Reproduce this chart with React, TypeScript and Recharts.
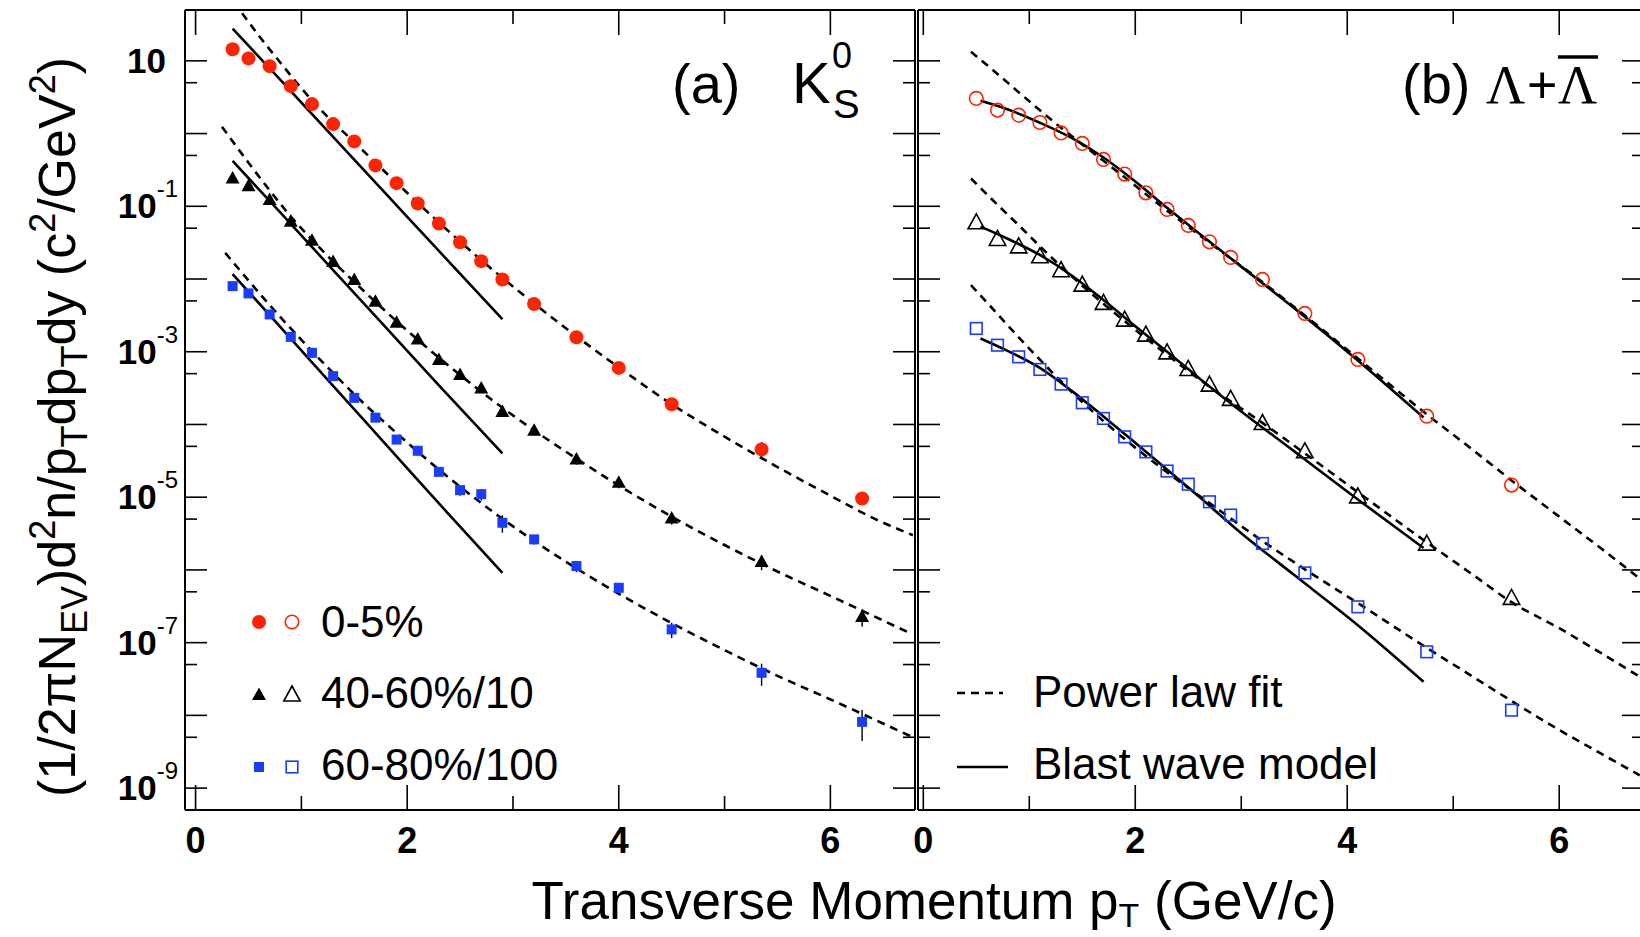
import React from 'react';
import { ComposedChart, Scatter, Line, XAxis, YAxis, ErrorBar } from 'recharts';

// ---------- axes ----------
const xTicks = [0, 1, 2, 3, 4, 5, 6];
const xTickLabels = ['0', '', '2', '', '4', '', '6'];
const yMajorTicks = [1e-9, 1e-8, 1e-7, 1e-6, 1e-5, 1e-4, 1e-3, 1e-2, 1e-1, 1, 10];
const yMinorTicks = [5e-9, 5e-8, 5e-7, 5e-6, 5e-5, 5e-4, 5e-3, 5e-2, 5e-1, 5];
const yTickLabelValues = [10, 1e-1, 1e-3, 1e-5, 1e-7, 1e-9];
const yTickLabelExps = ['', '-1', '-3', '-5', '-7', '-9'];
const xDomainA: [number, number] = [-0.1, 6.8];
const xDomainB: [number, number] = [-0.05, 6.8];
const yDomain: [number, number] = [5e-10, 50];

// ---------- (a) K0S data ----------
const ptK0s = [0.35, 0.5, 0.7, 0.9, 1.1, 1.3, 1.5, 1.7, 1.9, 2.1, 2.3, 2.5, 2.7, 2.9, 3.2, 3.6, 4.0, 4.5, 5.35, 6.3];
const k0s_0_5 = [14.4, 10.8, 8.45, 4.49, 2.54, 1.35, 0.78, 0.365, 0.208, 0.109, 0.058, 0.0321, 0.0176, 0.00987, 0.00452, 0.00158, 6.0e-4, 1.9e-4, 4.54e-5, 9.6e-6];
const k0s_0_5_err = [1.2, 0.9, 0.7, 0.35, 0.2, 0.1, 0.06, 0.03, 0.016, 0.009, 0.005, 0.0027, 0.0015, 0.0009, 0.0004, 0.00015, 0.6e-4, 0.35e-4, 1.2e-5, 1.5e-6];
const k0s_40_60 = [0.241, 0.189, 0.1216, 0.0611, 0.0335, 0.0172, 0.00966, 0.00486, 0.0025, 0.001476, 7.7e-4, 4.77e-4, 3.13e-4, 1.49e-4, 8.2e-5, 3.3e-5, 1.58e-5, 5.1e-6, 1.29e-6, 2.26e-7];
const k0s_40_60_err = [0.02, 0.015, 0.01, 0.005, 0.0028, 0.0015, 0.0008, 0.0004, 0.0002, 0.00013, 0.7e-4, 0.45e-4, 0.3e-4, 0.2e-4, 1.2e-5, 0.5e-5, 0.25e-5, 0.9e-6, 0.3e-6, 0.6e-7];
const k0s_60_80 = [7.98e-3, 6.34e-3, 3.26e-3, 1.6e-3, 9.66e-4, 4.62e-4, 2.32e-4, 1.24e-4, 6.2e-5, 4.35e-5, 2.23e-5, 1.25e-5, 1.1e-5, 4.45e-6, 2.63e-6, 1.13e-6, 5.68e-7, 1.52e-7, 3.85e-8, 8.15e-9];
const k0s_60_80_err = [0.8e-3, 0.6e-3, 0.3e-3, 0.15e-3, 0.9e-4, 0.45e-4, 0.25e-4, 0.15e-4, 0.8e-5, 0.6e-5, 0.3e-5, 0.2e-5, 0.2e-5, 1.2e-6, 0.4e-6, 0.2e-6, 0.9e-7, 0.36e-7, 1.3e-8, 3.7e-9];

// (a) power-law fits (dashed)
const redDashA_x = [0.44, 0.6, 0.8, 1.0, 1.2, 1.5, 1.9, 2.3, 2.7, 3.2, 3.6, 4.0, 4.5, 5.0, 5.5, 6.0, 6.4, 6.78];
const redDashA_y = [45, 22, 9.5, 4.2, 2.0, 0.76, 0.21, 0.06, 0.0182, 0.0046, 0.00163, 6.1e-4, 1.9e-4, 6.8e-5, 2.6e-5, 1.05e-5, 5.2e-6, 3.0e-6];
const blkDashA_x = [0.25, 0.5, 0.7, 0.9, 1.1, 1.3, 1.5, 1.9, 2.3, 2.7, 3.2, 3.6, 4.0, 4.5, 5.0, 5.5, 6.0, 6.3, 6.73];
const blkDashA_y = [1.24, 0.398, 0.166, 0.0724, 0.0347, 0.0174, 0.00912, 0.00263, 8.3e-4, 2.82e-4, 8.3e-5, 3.4e-5, 1.45e-5, 5.4e-6, 2.2e-6, 9.5e-7, 4.4e-7, 2.75e-7, 1.4e-7];
const bluDashA_x = [0.28, 0.5, 0.7, 0.9, 1.1, 1.3, 1.5, 1.9, 2.3, 2.7, 3.2, 3.6, 4.0, 4.5, 5.0, 5.5, 6.0, 6.3, 6.78];
const bluDashA_y = [0.0229, 0.00955, 0.00437, 0.00209, 0.00102, 5.1e-4, 2.6e-4, 7.6e-5, 2.4e-5, 8.3e-6, 2.5e-6, 1.05e-6, 4.7e-7, 1.86e-7, 7.9e-8, 3.5e-8, 1.66e-8, 1.05e-8, 5.0e-9];
// (a) blast wave (solid)
const blastA_x = [0.35, 0.8, 1.3, 1.8, 2.3, 2.9];
const redBlastA_y = [27.8, 5.5, 0.9, 0.148, 0.0243, 0.0028];
const blkBlastA_y = [0.42, 0.0824, 0.0133, 0.00214, 3.46e-4, 4.0e-5];
const bluBlastA_y = [0.0117, 2.2e-3, 3.4e-4, 5.3e-5, 8.2e-6, 9.1e-7];

// ---------- (b) Lambda data ----------
const ptLam = [0.5, 0.7, 0.9, 1.1, 1.3, 1.5, 1.7, 1.9, 2.1, 2.3, 2.5, 2.7, 2.9, 3.2, 3.6, 4.1, 4.75, 5.55];
const lam_0_5 = [3.04, 2.1, 1.79, 1.42, 1.02, 0.731, 0.441, 0.277, 0.153, 0.0905, 0.0546, 0.0325, 0.0198, 0.00987, 3.36e-3, 7.83e-4, 1.3e-4, 1.47e-5];
const lam_40_60 = [0.0593, 0.035, 0.0277, 0.0202, 0.013, 8.25e-3, 4.62e-3, 2.72e-3, 1.69e-3, 9.66e-4, 5.71e-4, 3.48e-4, 2.21e-4, 1.03e-4, 4.21e-5, 1.01e-5, 2.26e-6, 4.06e-7];
const lam_60_80 = [2.09e-3, 1.23e-3, 8.51e-4, 5.71e-4, 3.59e-4, 1.99e-4, 1.21e-4, 6.76e-5, 4.2e-5, 2.29e-5, 1.51e-5, 8.65e-6, 5.68e-6, 2.31e-6, 9.1e-7, 3.11e-7, 7.48e-8, 1.18e-8];

const dashB_x = [0.45, 0.7, 0.9, 1.1, 1.3, 1.5, 1.9, 2.3, 2.7, 3.2, 3.6, 4.1, 4.75, 5.2, 5.55, 6.0, 6.4, 6.76];
const redDashB_y = [13.3, 6.6, 3.7, 2.09, 1.2, 0.71, 0.25, 0.087, 0.0316, 0.0091, 0.00316, 8.1e-4, 1.38e-4, 4.3e-5, 1.7e-5, 5.4e-6, 1.95e-6, 7.6e-7];
const blkDashB_y = [0.241, 0.105, 0.055, 0.0282, 0.0148, 0.0081, 2.63e-3, 9.1e-4, 3.3e-4, 1.05e-4, 4.0e-5, 1.17e-5, 2.4e-6, 8.3e-7, 3.6e-7, 1.58e-7, 7.1e-8, 3.4e-8];
const bluDashB_y = [8.24e-3, 3.3e-3, 1.58e-3, 7.8e-4, 3.9e-4, 2.04e-4, 6.3e-5, 2.2e-5, 8.3e-6, 2.5e-6, 1.02e-6, 3.5e-7, 8.5e-8, 3.3e-8, 1.58e-8, 6.3e-9, 2.95e-9, 1.5e-9];
const blastB_x = [0.54, 0.8, 1.1, 1.4, 1.7, 2.0, 2.3, 2.6, 3.0, 3.5, 4.1, 4.72];
const redBlastB_y = [2.82, 2.14, 1.41, 0.87, 0.468, 0.219, 0.0955, 0.0427, 0.0148, 0.00398, 7.6e-4, 1.25e-4];
const blkBlastB_y = [0.0525, 0.0355, 0.0214, 0.0112, 0.00513, 0.00224, 1.0e-3, 4.37e-4, 1.51e-4, 4.27e-5, 9.3e-6, 2.0e-6];
const bluBlastB_y = [1.52e-3, 1.02e-3, 6.0e-4, 2.9e-4, 1.29e-4, 5.6e-5, 2.4e-5, 1.02e-5, 3.2e-6, 8.5e-7, 1.74e-7, 2.9e-8];

// ---------- legend texts ----------
const centralityLabels = ['0-5%', '40-60%/10', '60-80%/100'];
const curveLabels = ['Power law fit', 'Blast wave model'];

// ---------- styles ----------
const FONT = "'Liberation Sans', Arial, Helvetica, sans-serif";
const RED = '#ff2400';
const BLUE = '#1a3cff';
const DASH = '8 6';
const LW = 2.6;

const pts = (xs: number[], ys: number[], es?: number[]) =>
  xs.map((x, i) => (es ? { x, y: ys[i], e: es[i] } : { x, y: ys[i] }));

const near = (a: number, b: number) => Math.abs(a - b) <= Math.abs(b) * 1e-6;

// marker shapes
const FilledCircle = (p: any) => <circle cx={p.cx} cy={p.cy} r={7} fill={RED} />;
const FilledTri = (p: any) => (
  <polygon points={`${p.cx},${p.cy - 7.5} ${p.cx - 7},${p.cy + 5} ${p.cx + 7},${p.cy + 5}`} fill="#000" />
);
const FilledSq = (p: any) => <rect x={p.cx - 5} y={p.cy - 5} width={10} height={10} fill={BLUE} />;
const OpenCircle = (p: any) => <circle cx={p.cx} cy={p.cy} r={6.8} fill="none" stroke={RED} strokeWidth={1.6} />;
const OpenTri = (p: any) => (
  <polygon points={`${p.cx},${p.cy - 9} ${p.cx - 8.2},${p.cy + 6} ${p.cx + 8.2},${p.cy + 6}`} fill="none" stroke="#000" strokeWidth={1.6} />
);
const OpenSq = (p: any) => <rect x={p.cx - 5.8} y={p.cy - 5.8} width={11.6} height={11.6} fill="none" stroke={BLUE} strokeWidth={1.6} />;

// tick renderers (ticks point inward, ROOT style)
const BottomTick = (p: any) => {
  const v = p.payload.value;
  const idx = xTicks.indexOf(v);
  const lab = idx >= 0 ? xTickLabels[idx] : '';
  const len = lab ? 25 : 14;
  return (
    <g>
      <line x1={p.x} x2={p.x} y1={p.y} y2={p.y - len} stroke="#000" strokeWidth={1.6} />
      {lab ? (
        <text x={p.x} y={p.y + 43} textAnchor="middle" fontFamily={FONT} fontWeight="bold" fontSize={36} fill="#000">
          {lab}
        </text>
      ) : null}
    </g>
  );
};
const TopTick = (p: any) => {
  const v = p.payload.value;
  const idx = xTicks.indexOf(v);
  const len = idx >= 0 && xTickLabels[idx] ? 25 : 14;
  return <line x1={p.x} x2={p.x} y1={p.y} y2={p.y + len} stroke="#000" strokeWidth={1.6} />;
};
const isMajorY = (v: number) => yMajorTicks.some((m) => near(v, m));
const makeLeftTick = (showLabels: boolean) => (p: any) => {
  const v = p.payload.value;
  const len = isMajorY(v) ? 22 : 12;
  const li = yTickLabelValues.findIndex((m) => near(v, m));
  let label = null;
  if (showLabels && li >= 0) {
    const exp = yTickLabelExps[li];
    label = exp ? (
      <text x={p.x - 7} y={p.y + 12} textAnchor="end" fontFamily={FONT} fill="#000">
        <tspan fontWeight="bold" fontSize={35}>10</tspan>
        <tspan fontSize={24} dy={-21}>{exp}</tspan>
      </text>
    ) : (
      <text x={p.x - 19} y={p.y + 12} textAnchor="end" fontFamily={FONT} fontWeight="bold" fontSize={35} fill="#000">
        10
      </text>
    );
  }
  return (
    <g>
      <line x1={p.x} x2={p.x + len} y1={p.y} y2={p.y} stroke="#000" strokeWidth={1.6} />
      {label}
    </g>
  );
};
const RightTick = (p: any) => {
  const v = p.payload.value;
  const len = isMajorY(v) ? 22 : 12;
  return <line x1={p.x} x2={p.x - len} y1={p.y} y2={p.y} stroke="#000" strokeWidth={1.6} />;
};

const yTicks = [...yMajorTicks, ...yMinorTicks].sort((a, b) => a - b);
const frame = { stroke: '#000', strokeWidth: 2 };

function axes(domain: [number, number], labels: boolean) {
  return [
    <XAxis key="xb" xAxisId="b" type="number" dataKey="x" domain={domain} ticks={xTicks} interval={0} allowDataOverflow
      orientation="bottom" height={1} tickSize={0} tickMargin={0} tickLine={false} axisLine={frame} tick={BottomTick} />,
    <XAxis key="xt" xAxisId="t" type="number" dataKey="x" domain={domain} ticks={xTicks} interval={0} allowDataOverflow
      orientation="top" height={1} tickSize={0} tickMargin={0} tickLine={false} axisLine={frame} tick={TopTick} />,
    <YAxis key="yl" yAxisId="l" type="number" dataKey="y" scale="log" domain={yDomain} ticks={yTicks} interval={0} allowDataOverflow
      orientation="left" width={1} tickSize={0} tickMargin={0} tickLine={false} axisLine={frame} tick={makeLeftTick(labels)} />,
    <YAxis key="yr" yAxisId="r" type="number" dataKey="y" scale="log" domain={yDomain} ticks={yTicks} interval={0} allowDataOverflow
      orientation="right" width={1} tickSize={0} tickMargin={0} tickLine={false} axisLine={frame} tick={RightTick} />,
  ];
}

const curve = (key: string, data: any[], dashed: boolean) => (
  <Line key={key} xAxisId="b" yAxisId="l" data={data} dataKey="y" type="monotone" stroke="#000" strokeWidth={LW}
    strokeDasharray={dashed ? DASH : undefined} dot={false} activeDot={false} isAnimationActive={false} legendType="none" />
);

const errBar = <ErrorBar dataKey="e" direction="y" width={0} stroke="#000" strokeWidth={1.4} isAnimationActive={false} />;

export default function App() {
  return (
    <div style={{ position: 'fixed', left: 0, top: 0, width: 1640, height: 937, overflow: 'hidden', background: '#fff', fontFamily: FONT }}>
      {/* panel (a) */}
      <div style={{ position: 'absolute', left: 0, top: 0 }}>
        <ComposedChart width={930} height={937} margin={{ top: 9, right: 14, bottom: 126, left: 184 }}>
          {axes(xDomainA, true)}
          <Scatter xAxisId="b" yAxisId="l" data={pts(ptK0s, k0s_0_5, k0s_0_5_err)} dataKey="y" shape={FilledCircle} isAnimationActive={false}>{errBar}</Scatter>
          <Scatter xAxisId="b" yAxisId="l" data={pts(ptK0s, k0s_40_60, k0s_40_60_err)} dataKey="y" shape={FilledTri} isAnimationActive={false}>{errBar}</Scatter>
          <Scatter xAxisId="b" yAxisId="l" data={pts(ptK0s, k0s_60_80, k0s_60_80_err)} dataKey="y" shape={FilledSq} isAnimationActive={false}>{errBar}</Scatter>
          {curve('rda', pts(redDashA_x, redDashA_y), true)}
          {curve('bda', pts(blkDashA_x, blkDashA_y), true)}
          {curve('uda', pts(bluDashA_x, bluDashA_y), true)}
          {curve('rsa', pts(blastA_x, redBlastA_y), false)}
          {curve('bsa', pts(blastA_x, blkBlastA_y), false)}
          {curve('usa', pts(blastA_x, bluBlastA_y), false)}
        </ComposedChart>
      </div>
      {/* panel (b) */}
      <div style={{ position: 'absolute', left: 900, top: 0 }}>
        <ComposedChart width={760} height={937} margin={{ top: 9, right: 15, bottom: 126, left: 17 }}>
          {axes(xDomainB, false)}
          <Scatter xAxisId="b" yAxisId="l" data={pts(ptLam, lam_0_5)} dataKey="y" shape={OpenCircle} isAnimationActive={false} />
          <Scatter xAxisId="b" yAxisId="l" data={pts(ptLam, lam_40_60)} dataKey="y" shape={OpenTri} isAnimationActive={false} />
          <Scatter xAxisId="b" yAxisId="l" data={pts(ptLam, lam_60_80)} dataKey="y" shape={OpenSq} isAnimationActive={false} />
          {curve('rdb', pts(dashB_x, redDashB_y), true)}
          {curve('bdb', pts(dashB_x, blkDashB_y), true)}
          {curve('udb', pts(dashB_x, bluDashB_y), true)}
          {curve('rsb', pts(blastB_x, redBlastB_y), false)}
          {curve('bsb', pts(blastB_x, blkBlastB_y), false)}
          {curve('usb', pts(blastB_x, bluBlastB_y), false)}
        </ComposedChart>
      </div>
      {/* titles, panel labels and legends */}
      <svg width={1640} height={937} style={{ position: 'absolute', left: 0, top: 0, pointerEvents: 'none' }}>
        <g fontFamily={FONT} fill="#000">
          <text transform="translate(75,427) rotate(-90)" textAnchor="middle" fontSize={52}>
            (1/2πN<tspan dy={12} fontSize={36}>EV</tspan>
            <tspan dy={-12}>)d</tspan>
            <tspan dy={-20} fontSize={36}>2</tspan>
            <tspan dy={20}>n/p</tspan>
            <tspan dy={12} fontSize={36}>T</tspan>
            <tspan dy={-12}>dp</tspan>
            <tspan dy={12} fontSize={36}>T</tspan>
            <tspan dy={-12}>dy (c</tspan>
            <tspan dy={-20} fontSize={36}>2</tspan>
            <tspan dy={20}>/GeV</tspan>
            <tspan dy={-20} fontSize={36}>2</tspan>
            <tspan dy={20}>)</tspan>
          </text>
          <text x={934} y={919} textAnchor="middle" fontSize={53}>
            Transverse Momentum p<tspan dy={8} fontSize={34}>T</tspan>
            <tspan dy={-8}> (GeV/c)</tspan>
          </text>

          <text x={672} y={103} fontSize={56}>(a)</text>
          <text x={792} y={103} fontSize={58}>K</text>
          <text x={832} y={68} fontSize={36}>0</text>
          <text x={833} y={118} fontSize={40}>S</text>

          <text x={1402} y={103} fontSize={56}>(b)</text>
          <text x={1486} y={103} fontSize={54} fontFamily="'Liberation Serif', 'DejaVu Serif', serif">Λ</text>
          <text x={1527} y={103} fontSize={52}>+</text>
          <text x={1558} y={103} fontSize={54} fontFamily="'Liberation Serif', 'DejaVu Serif', serif">Λ</text>
          <line x1={1558} x2={1598} y1={57} y2={57} stroke="#000" strokeWidth={3.5} />

          {/* centrality legend */}
          <FilledCircle cx={259} cy={622} />
          <OpenCircle cx={292} cy={622} />
          <text x={321} y={637} fontSize={44}>{centralityLabels[0]}</text>
          <FilledTri cx={259} cy={695} />
          <OpenTri cx={292} cy={695} />
          <text x={321} y={708} fontSize={44}>{centralityLabels[1]}</text>
          <FilledSq cx={259} cy={767} />
          <OpenSq cx={292} cy={767} />
          <text x={321} y={780} fontSize={44}>{centralityLabels[2]}</text>

          {/* curve legend */}
          <line x1={957} x2={1003} y1={693} y2={693} stroke="#000" strokeWidth={LW} strokeDasharray={DASH} />
          <text x={1033} y={707} fontSize={44}>{curveLabels[0]}</text>
          <line x1={957} x2={1008} y1={767} y2={767} stroke="#000" strokeWidth={LW} />
          <text x={1033} y={779} fontSize={44}>{curveLabels[1]}</text>
        </g>
      </svg>
    </div>
  );
}
